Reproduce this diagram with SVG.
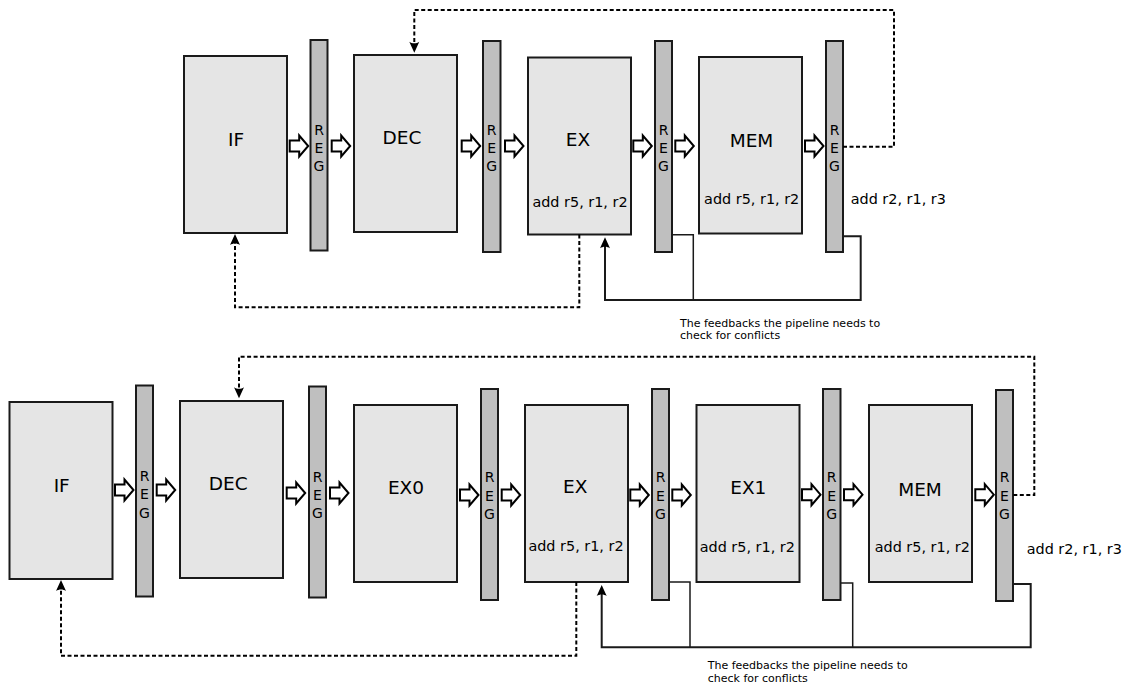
<svg xmlns="http://www.w3.org/2000/svg" width="1124" height="686" viewBox="0 0 1124 686">
<style>
.box{fill:#e5e5e5;stroke:#1a1a1a;stroke-width:2}
.reg{fill:#bfbfbf;stroke:#1a1a1a;stroke-width:2}
.barrow{fill:#fff;stroke:#000;stroke-width:2;stroke-linejoin:miter}
.lbl{font-family:"DejaVu Sans",sans-serif;font-size:18.5px;fill:#000;text-anchor:middle}
.ins{font-family:"DejaVu Sans",sans-serif;font-size:14.4px;fill:#000;text-anchor:middle}
.ins2{font-family:"DejaVu Sans",sans-serif;font-size:14.4px;fill:#000}
.rl{font-family:"DejaVu Sans",sans-serif;font-size:14px;fill:#000;text-anchor:middle}
.note{font-family:"DejaVu Sans",sans-serif;font-size:11px;fill:#000}
.dot{fill:none;stroke:#000;stroke-width:2;stroke-dasharray:4,2.5}
.fb{fill:none;stroke:#1a1a1a;stroke-width:2}
.fbt{fill:none;stroke:#1a1a1a;stroke-width:1.5}
</style>
<defs>
<marker id="ah" viewBox="-12 -6 13 12" refX="-8" refY="0" markerWidth="13" markerHeight="12" markerUnits="userSpaceOnUse" orient="auto">
<path d="M0,0 L-11,-5 C-9,-2 -9,2 -11,5 Z" fill="#000"/>
</marker>
<path id="ba" class="barrow" d="M0,-5.5 H9.5 V-10.5 L18.5,0 L9.5,10.5 V5.5 H0 Z"/>
</defs>

<!-- TOP ROW -->
<g id="t-if"><rect class="box" x="184" y="56" width="103" height="177"/><text class="lbl" x="236" y="146">IF</text></g>
<g id="t-reg1"><rect class="reg" x="310.5" y="40" width="17" height="210.5"/><text class="rl" x="319" y="134.5">R</text><text class="rl" x="319" y="152.8">E</text><text class="rl" x="319" y="171">G</text></g>
<g id="t-dec"><rect class="box" x="354" y="55" width="103" height="177"/><text class="lbl" x="402" y="144.3">DEC</text></g>
<g id="t-reg2"><rect class="reg" x="483" y="41" width="17.5" height="211"/><text class="rl" x="491.7" y="134.5">R</text><text class="rl" x="491.7" y="152.8">E</text><text class="rl" x="491.7" y="171">G</text></g>
<g id="t-ex"><rect class="box" x="528" y="57.5" width="103" height="177"/><text class="lbl" x="578" y="145.7">EX</text><text class="ins" x="580" y="207.3">add r5, r1, r2</text></g>
<g id="t-reg3"><rect class="reg" x="655" y="41" width="17" height="211"/><text class="rl" x="663.5" y="134.5">R</text><text class="rl" x="663.5" y="152.8">E</text><text class="rl" x="663.5" y="171">G</text></g>
<g id="t-mem"><rect class="box" x="699" y="57" width="103" height="176.5"/><text class="lbl" x="751.5" y="147">MEM</text><text class="ins" x="751.7" y="204">add r5, r1, r2</text></g>
<g id="t-reg4"><rect class="reg" x="826" y="41" width="17" height="211"/><text class="rl" x="834.5" y="134.5">R</text><text class="rl" x="834.5" y="152.8">E</text><text class="rl" x="834.5" y="171">G</text></g>
<g id="t-next"><text class="ins2" x="850.7" y="204">add r2, r1, r3</text></g>
<g id="t-note"><text class="note" x="680" y="326.5">The feedbacks the pipeline needs to</text><text class="note" x="680" y="339">check for conflicts</text></g>

<!-- BOTTOM ROW -->
<g id="b-if"><rect class="box" x="9.5" y="402" width="103" height="177"/><text class="lbl" x="61.7" y="491.7">IF</text></g>
<g id="b-reg1"><rect class="reg" x="136" y="385.5" width="17" height="211"/><text class="rl" x="144.5" y="481">R</text><text class="rl" x="144.5" y="499.3">E</text><text class="rl" x="144.5" y="517.6">G</text></g>
<g id="b-dec"><rect class="box" x="180" y="401" width="103" height="177"/><text class="lbl" x="228.3" y="490">DEC</text></g>
<g id="b-reg2"><rect class="reg" x="309" y="386.5" width="17" height="211"/><text class="rl" x="317.5" y="481.5">R</text><text class="rl" x="317.5" y="499.8">E</text><text class="rl" x="317.5" y="518.1">G</text></g>
<g id="b-ex0"><rect class="box" x="354" y="405" width="103" height="177"/><text class="lbl" x="406" y="494.3">EX0</text></g>
<g id="b-reg3"><rect class="reg" x="481" y="389" width="17" height="211"/><text class="rl" x="489.5" y="482.3">R</text><text class="rl" x="489.5" y="500.6">E</text><text class="rl" x="489.5" y="518.9">G</text></g>
<g id="b-ex"><rect class="box" x="525" y="405" width="103" height="177"/><text class="lbl" x="575.3" y="493.3">EX</text><text class="ins" x="576" y="550.7">add r5, r1, r2</text></g>
<g id="b-reg4"><rect class="reg" x="652" y="389" width="17" height="211"/><text class="rl" x="660.5" y="482.3">R</text><text class="rl" x="660.5" y="500.6">E</text><text class="rl" x="660.5" y="518.9">G</text></g>
<g id="b-ex1"><rect class="box" x="696.5" y="405" width="103" height="177"/><text class="lbl" x="748.3" y="494.3">EX1</text><text class="ins" x="747.3" y="551.7">add r5, r1, r2</text></g>
<g id="b-reg5"><rect class="reg" x="823" y="389" width="17.5" height="211"/><text class="rl" x="831.7" y="482.3">R</text><text class="rl" x="831.7" y="500.6">E</text><text class="rl" x="831.7" y="518.9">G</text></g>
<g id="b-mem"><rect class="box" x="869" y="405" width="103" height="177"/><text class="lbl" x="920" y="495.7">MEM</text><text class="ins" x="922.3" y="551.7">add r5, r1, r2</text></g>
<g id="b-reg6"><rect class="reg" x="996" y="390" width="17" height="211"/><text class="rl" x="1004.5" y="482.3">R</text><text class="rl" x="1004.5" y="500.6">E</text><text class="rl" x="1004.5" y="518.9">G</text></g>
<g id="b-next"><text class="ins2" x="1026.7" y="554">add r2, r1, r3</text></g>
<g id="b-note"><text class="note" x="707.7" y="669">The feedbacks the pipeline needs to</text><text class="note" x="707.7" y="682">check for conflicts</text></g>

<!-- CONNECTORS -->
<g id="connectors">
<use href="#ba" x="289.7" y="146"/>
<use href="#ba" x="331.7" y="146"/>
<use href="#ba" x="461.7" y="146"/>
<use href="#ba" x="505" y="146"/>
<use href="#ba" x="633.3" y="146"/>
<use href="#ba" x="675.3" y="146"/>
<use href="#ba" x="805" y="146"/>

<use href="#ba" x="115" y="490"/>
<use href="#ba" x="156.7" y="490"/>
<use href="#ba" x="286.7" y="493"/>
<use href="#ba" x="330" y="493"/>
<use href="#ba" x="460" y="495"/>
<use href="#ba" x="501.7" y="495"/>
<use href="#ba" x="630.3" y="495"/>
<use href="#ba" x="672.3" y="495"/>
<use href="#ba" x="802" y="494.7"/>
<use href="#ba" x="844" y="494.7"/>
<use href="#ba" x="975.3" y="494.7"/>

<path class="dot" d="M843,146.7 H894 V10 H414.3 V44.7" marker-end="url(#ah)"/>
<path class="dot" d="M579.3,234.5 V307.3 H235 V242" marker-end="url(#ah)"/>
<path class="fbt" d="M672.3,234.7 H693.3 V300"/>
<path class="fb" d="M843.3,236.3 H860.7 V300 H605 V245.3" marker-end="url(#ah)"/>

<path class="dot" d="M1013.3,495 H1034.3 V356.7 H239 V390.3" marker-end="url(#ah)"/>
<path class="dot" d="M576.3,582 V655.7 H61 V588" marker-end="url(#ah)"/>
<path class="fbt" d="M669.3,582 H690 V647.3"/>
<path class="fbt" d="M840.7,583 H852.7 V647.3"/>
<path class="fb" d="M1013.3,584 H1030.7 V647.3 H601.7 V593" marker-end="url(#ah)"/>
</g>
</svg>
